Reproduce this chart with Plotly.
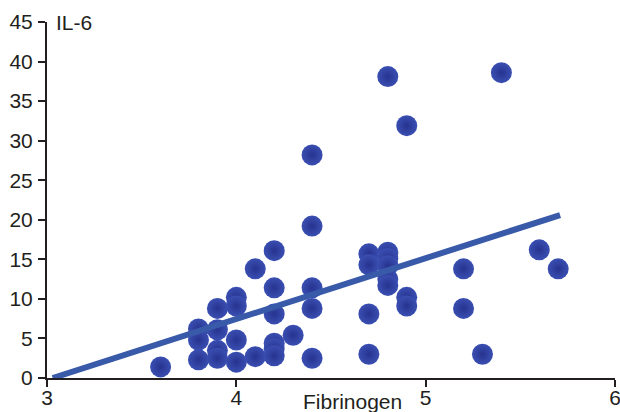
import plotly.graph_objects as go

# Data
fib = [3.6, 3.8, 3.8, 3.8, 3.9, 3.9, 3.9, 3.9, 4.0, 4.0, 4.0, 4.0,
       4.1, 4.1, 4.2, 4.2, 4.2, 4.2, 4.2, 4.2, 4.3,
       4.4, 4.4, 4.4, 4.4, 4.4,
       4.7, 4.7, 4.7, 4.7,
       4.8, 4.8, 4.8, 4.8, 4.8, 4.8,
       4.9, 4.9, 4.9,
       5.2, 5.2, 5.3, 5.4, 5.6, 5.7]
il6 = [1.4, 6.2, 4.8, 2.3, 8.8, 6.1, 3.5, 2.5, 10.2, 9.1, 4.8, 2.0,
       13.8, 2.7, 16.1, 11.4, 8.1, 4.4, 3.7, 2.8, 5.4,
       28.2, 19.2, 11.4, 8.8, 2.5,
       15.7, 14.3, 8.1, 3.0,
       38.1, 15.9, 15.1, 14.2, 12.5, 11.7,
       31.9, 10.2, 9.1,
       13.8, 8.8, 3.0, 38.6, 16.2, 13.8]
fit_x = [3.03, 5.71]
fit_y = [0.0, 20.6]
x_ticks = [3, 4, 5, 6]
y_ticks = [0, 5, 10, 15, 20, 25, 30, 35, 40, 45]

txt = "#231f20"
font = dict(family="Liberation Sans, Arial, sans-serif", size=21, color=txt)

fig = go.Figure()
fig.add_trace(go.Scatter(
    x=fib, y=il6, mode="markers", cliponaxis=False,
    marker=dict(size=21, color="#3a4fb2",
                gradient=dict(type="radial", color="#27338f"),
                line=dict(width=0)),
    showlegend=False))
fig.add_trace(go.Scatter(
    x=fit_x, y=fit_y, mode="lines", cliponaxis=False,
    line=dict(color="#3959a9", width=6), showlegend=False))

fig.update_layout(
    width=620, height=412,
    margin=dict(l=47, r=5, t=22, b=34, autoexpand=False),
    paper_bgcolor="white", plot_bgcolor="white",
    font=font,
    xaxis=dict(range=[3, 6], tickvals=x_ticks, showgrid=False, zeroline=False,
               showline=True, linecolor=txt, linewidth=2, automargin=False,
               ticks="outside", ticklen=7, tickwidth=2, tickcolor=txt,
               tickfont=font, ticklabelstandoff=-7, ticklabeloverflow="allow"),
    yaxis=dict(range=[0, 45], tickvals=y_ticks, showgrid=False, zeroline=False,
               showline=True, linecolor=txt, linewidth=2, automargin=False,
               ticks="outside", ticklen=7, tickwidth=2, tickcolor=txt,
               tickfont=font, ticklabelstandoff=1),
    annotations=[
        dict(text="IL-6", xref="paper", yref="paper", x=0.012, y=1.0,
             xanchor="left", yanchor="middle", showarrow=False, font=font),
        dict(text="Fibrinogen", xref="paper", yref="paper", x=0.538, y=-0.065,
             xanchor="center", yanchor="middle", showarrow=False, font=font),
    ],
)

fig.write_html("out.html")
